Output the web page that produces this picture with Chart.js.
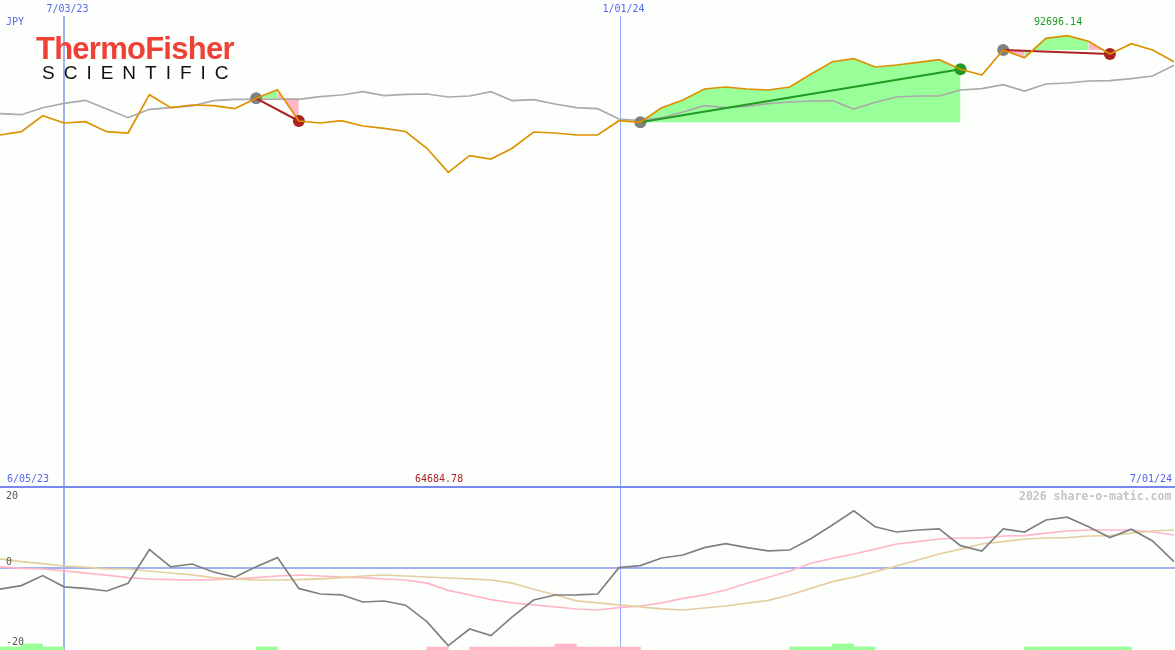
<!DOCTYPE html>
<html>
<head>
<meta charset="utf-8">
<title>Thermo Fisher Scientific JPY</title>
<script src="https://cdn.jsdelivr.net/npm/chart.js@4"></script>
<style>
  html, body { margin: 0; padding: 0; background: #fdfffd; overflow: hidden; }
  #page { position: relative; width: 1175px; height: 650px; }
  canvas { position: absolute; left: 0; }
  .label { position: absolute; font: 10px "DejaVu Sans Mono", monospace; line-height: 12px; white-space: nowrap; }
  #logo-top { position: absolute; left: 36px; top: 32px; font: bold 31px "Liberation Sans", sans-serif; line-height: 34px; color: #ef4135; letter-spacing: -0.75px; white-space: nowrap; }
  #logo-bottom { position: absolute; left: 42px; top: 62px; font: 19px "Liberation Sans", sans-serif; line-height: 21px; color: #111; letter-spacing: 9px; white-space: nowrap; }
</style>
</head>
<body>
<div id="page">
  <canvas id="price-chart" width="1175" height="489" style="top:0"></canvas>
  <canvas id="signal-chart" width="1175" height="166" style="top:484px"></canvas>
  <div id="logo-top">ThermoFisher</div>
  <div id="logo-bottom">SCIENTIFIC</div>
</div>
<script>
// weekly closes in JPY
const stockPrices = [72330, 73006, 76284, 74789, 75055, 73006, 72740, 80587, 77923, 78477, 78333, 77719, 79850, 81612,
  75198, 74789, 75260, 74174, 73703, 73047, 69605, 64684.78, 68088, 67412, 69605, 72944, 72740, 72330, 72330, 75260,
  74932, 77923, 79501, 81755, 82165, 81755, 81550, 82165, 84829, 87349, 87964, 86263, 86673, 87226, 87759, 85792,
  84624, 89746, 88168, 92144, 92696.14, 91529, 88927, 91037, 89746, 87349];
const benchmarkPrices = [76694, 76489, 77923, 78825, 79440, 77657, 75874, 77596, 77923, 78272, 79358, 79645, 79645, 79706,
  79645, 80177, 80526, 81202, 80382, 80669, 80731, 80116, 80321, 81202, 79358, 79563, 78682, 77923, 77719, 75608,
  75260, 75874, 77042, 78333, 77923, 78210, 78743, 79091, 79296, 79358, 77657, 79030, 80116, 80321, 80321, 81550,
  81817, 82636, 81345, 82780, 82985, 83394, 83456, 83866, 84419, 86611];

// lower panel
const relativeValues = [-5.3, -4.4, -1.9, -4.7, -5.1, -5.75, -3.8, 4.6, 0.3, 1.0, -1.0, -2.3, 0.3, 2.6, -5.1, -6.5, -6.7, -8.5,
  -8.25, -9.3, -13.4, -19.4, -15.25, -16.9, -12.2, -8, -6.75, -6.7, -6.5, 0.1, 0.6, 2.5, 3.25, 5.1, 6.1, 5.1, 4.3, 4.5,
  7.4, 10.75, 14.3, 10.3, 9, 9.5, 9.8, 5.6, 4.25, 9.8, 9, 12, 12.7, 10.3, 7.6, 9.7, 6.75, 1.6];
const fastAverage = [0.3, -0.1, -0.25, -0.7, -1.3, -1.8, -2.4, -2.75, -2.9, -3, -2.9, -2.7, -2.4, -2, -1.75, -2, -2.3, -2.4,
  -2.75, -3, -3.8, -5.6, -6.7, -7.9, -8.7, -9.2, -9.7, -10.25, -10.5, -9.9, -9.5, -8.7, -7.6, -6.75, -5.5, -3.8, -2.3, -0.75,
  1.2, 2.4, 3.5, 4.7, 6, 6.6, 7.25, 7.5, 7.5, 8, 8.1, 8.7, 9.25, 9.5, 9.5, 9.5, 9, 8.25];
const slowAverage = [2.3, 1.6, 1.1, 0.5, 0.2, -0.2, -0.25, -0.75, -1.25, -1.7, -2.4, -2.75, -3, -3, -2.9, -2.7, -2.4, -2,
  -1.75, -2, -2.25, -2.5, -2.7, -3, -3.8, -5.3, -6.7, -8.2, -8.7, -9.2, -9.7, -10.2, -10.5, -10, -9.5, -8.8, -8.1, -6.75,
  -5.1, -3.4, -2.3, -0.9, 0.5, 2, 3.5, 4.7, 6, 6.6, 7.25, 7.5, 7.6, 8, 8.1, 8.7, 9.25, 9.5];
// one entry per week interval, + green and - pink
const signalLevels = [1, 2, 1, 0, 0, 0, 0, 0, 0, 0, 0, 0, 1, 0, 0, 0, 0, 0, 0, 0, -1, 0, -1, -1, -1, -1, -2, -1, -1, -1, 0, 0, 0, 0, 0, 0, 0,
  1, 1, 2, 1, 0, 0, 0, 0, 0, 0, 0, 1, 1, 1, 1, 1, 0, 0];

// week position of the vertical lines and their dates
const gridWeeks = [3, 29.05];
const gridDates = ['7/03/23', '1/01/24'];
const yTickLabels = ['20', '0', '-20'];

// trades, as week indexes into stockPrices
const tradeEntries = [12, 30, 47];
const tradeExits = [14, 45, 52];

const weeks = stockPrices.map((_, i) => i);

const GREEN_FILL = '#99ff99';
const PINK_FILL = '#ffb6c9';
const GREEN_LINE = '#229922';
const RED_LINE = '#aa2222';
const GRID_BLUE = '#a3b1f2';
const TEXT_BLUE = '#5566ee';

function addLabel(text, left, top, color, extra) {
    const el = document.createElement('div');
    el.className = 'label';
    el.textContent = text;
    el.style.left = left + 'px';
    el.style.top = top + 'px';
    el.style.color = color;
    if (extra) Object.assign(el.style, extra);
    document.getElementById('page').appendChild(el);
}

function verticalGrid() {
    return {
        type: 'linear',
        position: 'top',
        min: 0,
        max: 55.05,
        offset: false,
        afterBuildTicks: scale => { scale.ticks = gridWeeks.map(value => ({ value })); },
        grid: {
            color: ctx => (ctx.index === 0 ? GRID_BLUE : '#97a8ff'),
            offset: false,
            lineWidth: ctx => (ctx.index === 0 ? 2 : 1),
            drawTicks: false
        }
    };
}

const priceDatasets = [];

// green / pink areas to the entry level, each week coloured by where it ends up
function addFillRun(entry, from, to, color) {
    priceDatasets.push({
        data: stockPrices.map((v, i) => (i >= from && i <= to ? v : null)),
        borderWidth: 0,
        pointRadius: 0,
        order: 5,
        fill: { value: stockPrices[entry], above: color, below: color }
    });
}

tradeEntries.forEach((entry, t) => {
    const weekColor = w => (stockPrices[w + 1] >= stockPrices[entry] ? GREEN_FILL : PINK_FILL);
    let from = entry;
    for (let w = entry + 1; w <= tradeExits[t]; w++) {
        if (w === tradeExits[t] || weekColor(w) !== weekColor(from)) {
            addFillRun(entry, from, w, weekColor(from));
            from = w;
        }
    }
});

priceDatasets.push({
    data: benchmarkPrices,
    borderColor: '#aaaaaa',
    borderWidth: 1.7,
    pointRadius: 0,
    order: 4
});

tradeEntries.forEach((entry, t) => {
    const exit = tradeExits[t];
    const won = stockPrices[exit] > stockPrices[entry];
    const points = [{ x: entry, y: stockPrices[entry] }, { x: exit, y: stockPrices[exit] }];
    priceDatasets.push({
        data: points,
        showLine: false,
        pointRadius: 6,
        pointBorderWidth: 0,
        pointBackgroundColor: ['#808080', won ? GREEN_LINE : RED_LINE],
        order: 3
    });
    priceDatasets.push({
        data: points,
        borderColor: won ? GREEN_LINE : RED_LINE,
        borderWidth: 2,
        pointRadius: 0,
        order: 2
    });
});

priceDatasets.push({
    data: stockPrices,
    borderColor: '#dd9000',
    borderWidth: 1.7,
    pointRadius: 0,
    order: 1
});

new Chart(document.getElementById('price-chart'), {
    type: 'line',
    data: { labels: weeks, datasets: priceDatasets },
    options: {
        responsive: false,
        animation: false,
        events: [],
        layout: { autoPadding: false, padding: { bottom: 1 } },
        elements: { line: { tension: 0 } },
        plugins: { legend: { display: false }, tooltip: { enabled: false } },
        scales: {
            x: Object.assign(verticalGrid(), {
                afterFit: scale => { scale.height = 16; },
                border: { display: false },
                ticks: {
                    autoSkip: false,
                    maxRotation: 0,
                    padding: 1,
                    labelOffset: 3.5,
                    color: TEXT_BLUE,
                    font: { family: 'DejaVu Sans Mono', size: 10 },
                    callback: value => gridDates[gridWeeks.indexOf(value)]
                }
            }),
            y: { display: false, min: 0, max: 96713 }
        }
    }
});

new Chart(document.getElementById('signal-chart'), {
    data: {
        labels: weeks,
        datasets: [
            {
                type: 'bar',
                yAxisID: 'yLevel',
                data: signalLevels.map((v, i) => ({ x: i + 0.5, y: v === 0 ? null : Math.abs(v) })),
                backgroundColor: signalLevels.map(v => (v > 0 ? GREEN_FILL : PINK_FILL)),
                barPercentage: 1,
                categoryPercentage: 1,
                order: 4
            },
            { type: 'line', data: fastAverage, borderColor: '#ffb6c9', borderWidth: 1.7, pointRadius: 0, order: 3 },
            { type: 'line', data: slowAverage, borderColor: '#e5cfa0', borderWidth: 1.7, pointRadius: 0, order: 2 },
            { type: 'line', data: relativeValues, borderColor: '#808080', borderWidth: 1.7, pointRadius: 0, order: 1 }
        ]
    },
    options: {
        responsive: false,
        animation: false,
        events: [],
        layout: { autoPadding: false },
        elements: { line: { tension: 0 } },
        plugins: { legend: { display: false }, tooltip: { enabled: false } },
        scales: {
            x: Object.assign(verticalGrid(), {
                afterFit: scale => { scale.height = 3; },
                border: { color: '#7788ee', width: 2 },
                ticks: { display: false }
            }),
            y: {
                min: -20.5,
                max: 20.25,
                afterBuildTicks: scale => { scale.ticks = [{ value: 0 }]; },
                border: { display: false },
                grid: { color: GRID_BLUE, lineWidth: 2, drawTicks: false },
                ticks: { display: false }
            },
            yLevel: { display: false, min: 0, max: 54 }
        }
    }
});

addLabel('JPY', 6, 16, TEXT_BLUE);
addLabel('92696.14', 1034, 16, GREEN_LINE);
addLabel('6/05/23', 7, 473, TEXT_BLUE);
addLabel('64684.78', 415, 473, RED_LINE);
addLabel('7/01/24', 1130, 473, TEXT_BLUE);
addLabel(yTickLabels[0], 6, 490, '#555555');
addLabel(yTickLabels[1], 6, 556, '#555555');
addLabel(yTickLabels[2], 6, 636, '#555555');
addLabel('2026 share-o-matic.com', 1019, 490, '#c4c4c4', { font: 'bold 11.5px "DejaVu Sans Mono", monospace', lineHeight: '12px' });
</script>
</body>
</html>
